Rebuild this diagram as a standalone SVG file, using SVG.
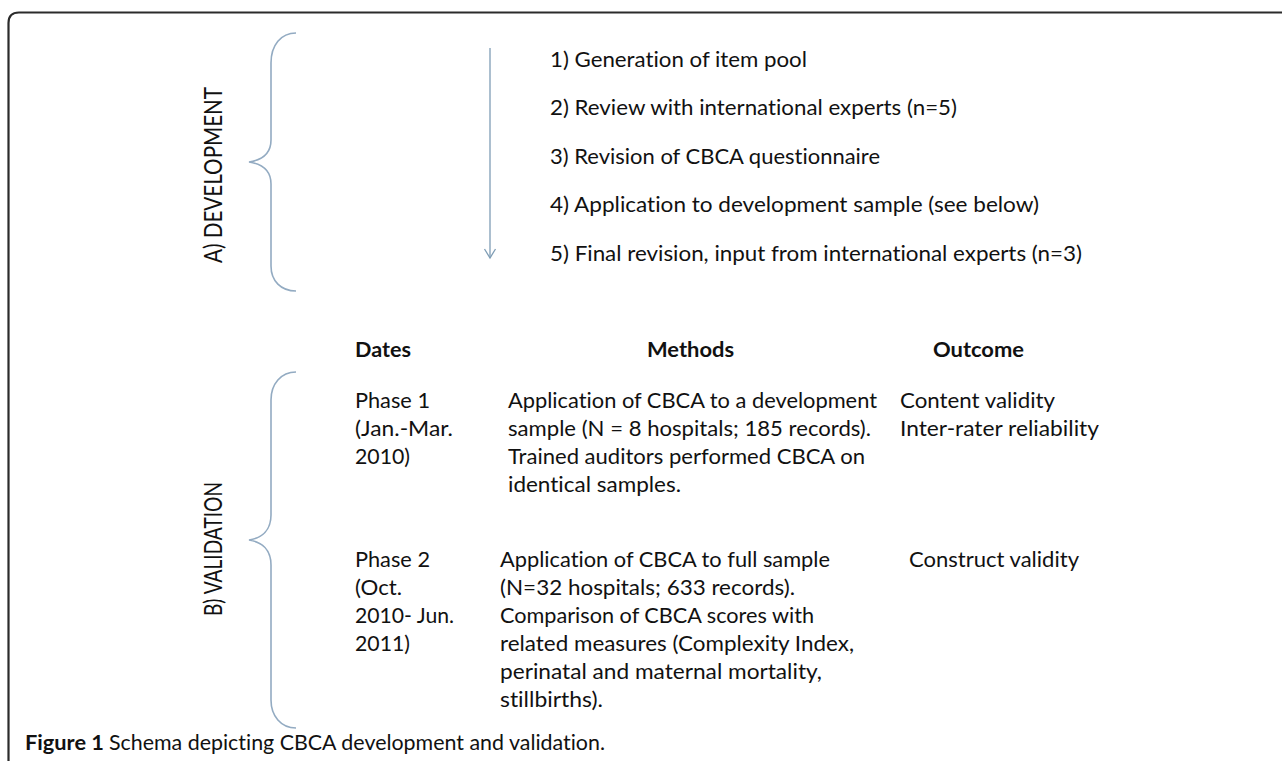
<svg xmlns="http://www.w3.org/2000/svg" width="1282" height="761" viewBox="0 0 1282 761">
<defs>
<style>
text{font-family:Lato,"Open Sans","Liberation Sans",sans-serif;fill:#111;font-size:21px;font-variant-ligatures:none}
.b{font-weight:bold}
.side{font-size:25px}
.cap{font-size:21.5px}
.br{fill:none;stroke:#93abc2;stroke-width:1.6}
.frame{fill:none;stroke:#2b2b2b;stroke-width:2.2}
</style>
<marker id="ah" markerWidth="14" markerHeight="14" refX="11" refY="7" orient="auto" markerUnits="userSpaceOnUse" viewBox="0 0 14 14">
<path d="M2,1.5 L11,7 L2,12.5" fill="none" stroke="#7f9db5" stroke-width="1.3"/>
</marker>
</defs>
<rect width="1282" height="761" fill="#fff"/>
<path class="frame" d="M8.5,761 V23 Q8.5,12.5 19,12.5 H1282"/>

<g id="label-development">
<text class="side" transform="translate(222,175) rotate(-90)" text-anchor="middle" textLength="176" lengthAdjust="spacingAndGlyphs">A) DEVELOPMENT</text>
</g>
<g id="label-validation">
<text class="side" transform="translate(222,549) rotate(-90)" text-anchor="middle" textLength="134" lengthAdjust="spacingAndGlyphs">B) VALIDATION</text>
</g>

<g id="brace-development">
<path class="br" d="M296,33 C281,33 271,45 271,63 V140 C271,153 262,160 249,162 C262,164 271,171 271,184 V266 C271,281 281,291 296,291"/>
</g>
<g id="brace-validation">
<path class="br" d="M296,372 C281,372 271,384 271,400 V515 C271,530 262,538 249,540 C262,542 271,550 271,565 V700 C271,716 281,728 296,728"/>
</g>

<g id="connectors">
<line x1="490" y1="48" x2="490" y2="258" stroke="#7f9db5" stroke-width="1.3" marker-end="url(#ah)"/>
</g>

<g id="steps">
<text x="550" y="67" textLength="257" lengthAdjust="spacingAndGlyphs">1) Generation of item pool</text>
<text x="550" y="115" textLength="407" lengthAdjust="spacingAndGlyphs">2) Review with international experts (n=5)</text>
<text x="550" y="164" textLength="330" lengthAdjust="spacingAndGlyphs">3) Revision of CBCA questionnaire</text>
<text x="550" y="212" textLength="489" lengthAdjust="spacingAndGlyphs">4) Application to development sample (see below)</text>
<text x="550" y="261" textLength="532" lengthAdjust="spacingAndGlyphs">5) Final revision, input from international experts (n=3)</text>
</g>

<g id="headers">
<text class="b" x="355" y="357" textLength="56" lengthAdjust="spacingAndGlyphs">Dates</text>
<text class="b" x="647" y="357" textLength="87" lengthAdjust="spacingAndGlyphs">Methods</text>
<text class="b" x="933" y="357" textLength="91" lengthAdjust="spacingAndGlyphs">Outcome</text>
</g>

<g id="phase1">
<text x="355" y="408" textLength="75" lengthAdjust="spacingAndGlyphs">Phase 1</text>
<text x="355" y="436" textLength="98" lengthAdjust="spacingAndGlyphs">(Jan.-Mar.</text>
<text x="355" y="464" textLength="55" lengthAdjust="spacingAndGlyphs">2010)</text>
<text x="508" y="408" textLength="369" lengthAdjust="spacingAndGlyphs">Application of CBCA to a development</text>
<text x="508" y="436" textLength="363" lengthAdjust="spacingAndGlyphs">sample (N = 8 hospitals; 185 records).</text>
<text x="508" y="464" textLength="357" lengthAdjust="spacingAndGlyphs">Trained auditors performed CBCA on</text>
<text x="508" y="492" textLength="173" lengthAdjust="spacingAndGlyphs">identical samples.</text>
<text x="900" y="408" textLength="155" lengthAdjust="spacingAndGlyphs">Content validity</text>
<text x="900" y="436" textLength="199" lengthAdjust="spacingAndGlyphs">Inter-rater reliability</text>
</g>

<g id="phase2">
<text x="355" y="567" textLength="75" lengthAdjust="spacingAndGlyphs">Phase 2</text>
<text x="355" y="595" textLength="47" lengthAdjust="spacingAndGlyphs">(Oct.</text>
<text x="355" y="623" textLength="99" lengthAdjust="spacingAndGlyphs">2010- Jun.</text>
<text x="355" y="651" textLength="55" lengthAdjust="spacingAndGlyphs">2011)</text>
<text x="500" y="567" textLength="330" lengthAdjust="spacingAndGlyphs">Application of CBCA to full sample</text>
<text x="500" y="595" textLength="295" lengthAdjust="spacingAndGlyphs">(N=32 hospitals; 633 records).</text>
<text x="500" y="623" textLength="314" lengthAdjust="spacingAndGlyphs">Comparison of CBCA scores with</text>
<text x="500" y="651" textLength="354" lengthAdjust="spacingAndGlyphs">related measures (Complexity Index,</text>
<text x="500" y="679" textLength="322" lengthAdjust="spacingAndGlyphs">perinatal and maternal mortality,</text>
<text x="500" y="707" textLength="103" lengthAdjust="spacingAndGlyphs">stillbirths).</text>
<text x="909" y="567" textLength="170" lengthAdjust="spacingAndGlyphs">Construct validity</text>
</g>

<g id="caption">
<text class="b cap" x="25" y="750" textLength="79" lengthAdjust="spacingAndGlyphs">Figure 1</text>
<text class="cap" x="109" y="750" textLength="496" lengthAdjust="spacingAndGlyphs">Schema depicting CBCA development and validation.</text>
</g>
</svg>
